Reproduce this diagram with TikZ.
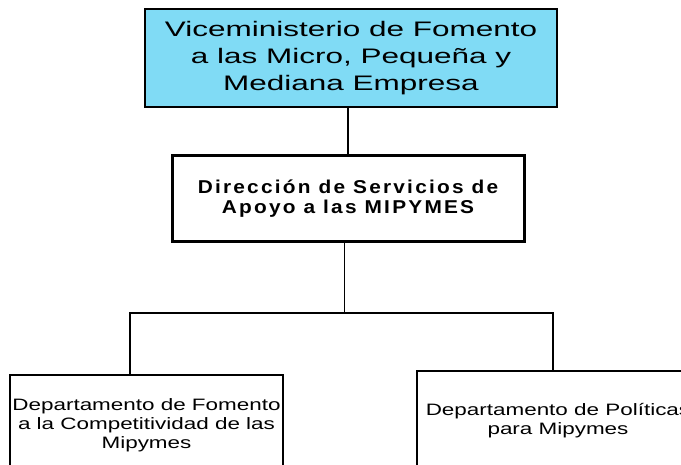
\documentclass[tikz,border=0pt]{standalone}
\usepackage{fontspec}
\setmainfont{Liberation Sans}
\newfontfamily\vicefont[FakeStretch=1.5]{Liberation Sans}
\newfontfamily\dirfont[FakeStretch=1.12,LetterSpace=12]{Liberation Sans}
\newfontfamily\deptfont[FakeStretch=1.36]{Liberation Sans}
\definecolor{viceBlue}{RGB}{128,219,245}
\tikzset{
  orgbox/.style={draw=black, align=center, inner sep=0pt, line width=1.2pt},
  orgline/.style={draw=black, line cap=rect},
}
\begin{document}
\begin{tikzpicture}[x=1pt, y=-1pt]
% Page frame (the two lower boxes run past it)
\useasboundingbox (0,0) rectangle (681,465);
\clip (0,0) rectangle (681,465);
\fill[white] (0,0) rectangle (681,465);
% Boxes
\node[orgbox, fill=viceBlue, minimum width=412pt, minimum height=98pt,
  font={\vicefont\fontsize{21}{27}\selectfont}] (vice) at (351,58)
  {Viceministerio de Fomento\\a las Micro, Pequeña y\\Mediana Empresa};
\node[orgbox, line width=3pt, minimum width=352pt, minimum height=86pt,
  font={\dirfont\bfseries\fontsize{18.6}{20}\selectfont}] (dir) at (348,199)
  {Dirección de Servicios de\\Apoyo a las MIPYMES};
\node[orgbox, minimum width=273pt, minimum height=100pt,
  font={\deptfont\fontsize{16.5}{19}\selectfont}] (compet) at (146.5,425)
  {Departamento de Fomento\\a la Competitividad de las\\Mipymes};
\node[orgbox, minimum width=282pt, minimum height=100pt,
  font={\deptfont\fontsize{16.5}{19}\selectfont}] (polit) at (558,421)
  {Departamento de Políticas\\para Mipymes};
% Connectors
\coordinate (bus) at (344,313);
\draw[orgline, line width=2pt] ([xshift=-3pt]vice.south) -- ([xshift=-3pt]vice.south |- dir.north);
\draw[orgline, line width=1pt] ([xshift=-4pt]dir.south) -- (bus);
\draw[orgline, line width=1.5pt] (bus) -| ([xshift=-16.5pt]compet.north);
\draw[orgline, line width=1.5pt] (bus) -| ([xshift=-5pt]polit.north);
\end{tikzpicture}
\end{document}
